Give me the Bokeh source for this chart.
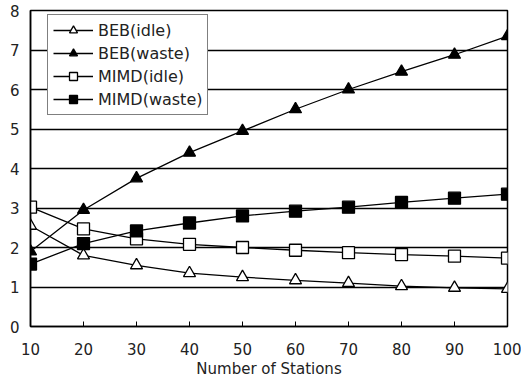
from bokeh.plotting import figure
from bokeh.models import FixedTicker, Range1d, Legend, LegendItem
from bokeh.embed import file_html
from bokeh.resources import INLINE

stations = [10, 20, 30, 40, 50, 60, 70, 80, 90, 100]
beb_idle = [2.55, 1.80, 1.55, 1.35, 1.25, 1.17, 1.10, 1.02, 0.98, 0.95]
beb_waste = [1.90, 2.95, 3.75, 4.40, 4.95, 5.50, 6.00, 6.45, 6.88, 7.35]
mimd_idle = [3.02, 2.47, 2.22, 2.08, 2.00, 1.93, 1.87, 1.82, 1.78, 1.73]
mimd_waste = [1.58, 2.10, 2.42, 2.62, 2.80, 2.92, 3.02, 3.14, 3.25, 3.35]
y_ticks = [0, 1, 2, 3, 4, 5, 6, 7, 8]
x_label = "Number of Stations"

FONT = "DejaVu Sans"
NAN = float("nan")

p = figure(width=521, height=385, output_backend="svg", toolbar_location=None,
           x_range=Range1d(10, 100), y_range=Range1d(0, 8),
           min_border_left=30, min_border_right=14, min_border_top=10, min_border_bottom=59)

p.outline_line_color = "black"
p.outline_line_width = 1.5
p.background_fill_color = "white"
p.border_fill_color = "white"

p.xgrid.visible = False
p.ygrid.grid_line_color = "black"
p.ygrid.grid_line_width = 1.5
p.ygrid.ticker = FixedTicker(ticks=y_ticks)

p.xaxis.ticker = FixedTicker(ticks=stations)
p.yaxis.ticker = FixedTicker(ticks=y_ticks)
for ax in (p.xaxis, p.yaxis):
    ax.axis_line_color = "black"
    ax.axis_line_width = 1.5
    ax.minor_tick_line_color = None
    ax.major_label_text_font = FONT
    ax.major_label_text_font_size = "15px"
    ax.major_label_text_color = "#222222"
p.xaxis.major_tick_in = 5
p.xaxis.major_tick_out = 0
p.xaxis.major_tick_line_color = "black"
p.xaxis.major_label_standoff = 16
p.yaxis.major_tick_in = 0
p.yaxis.major_tick_out = 0
p.yaxis.major_label_standoff = 11
p.xaxis.axis_label = x_label
p.xaxis.axis_label_text_font = FONT
p.xaxis.axis_label_text_font_size = "15px"
p.xaxis.axis_label_text_font_style = "normal"
p.xaxis.axis_label_text_color = "#222222"
p.xaxis.axis_label_standoff = 2

series = [
    ("BEB(idle)", beb_idle, "triangle", "white"),
    ("BEB(waste)", beb_waste, "triangle", "black"),
    ("MIMD(idle)", mimd_idle, "square", "white"),
    ("MIMD(waste)", mimd_waste, "square", "black"),
]
items = []
for name, ys, marker, fill in series:
    p.line(stations, ys, line_color="black", line_width=1.3)
    p.scatter(stations, ys, marker=marker, size=12, fill_color=fill,
              line_color="black", line_width=1.3)
    # legend-only proxies (no visible data) with a smaller marker, as in the reference
    lp = p.line([NAN], [NAN], line_color="black", line_width=1.3)
    sp = p.scatter([NAN], [NAN], marker=marker, size=9, fill_color=fill,
                   line_color="black", line_width=1.3)
    items.append(LegendItem(label=name, renderers=[lp, sp]))

legend = Legend(items=items, location=(17, 211))
legend.label_text_font = FONT
legend.label_text_font_size = "16px"
legend.label_text_color = "#222222"
legend.glyph_width = 40
legend.glyph_height = 20
legend.label_standoff = 5
legend.spacing = 3
legend.padding = 5
legend.margin = 0
legend.border_line_color = "black"
legend.border_line_width = 1.3
legend.background_fill_color = "white"
legend.background_fill_alpha = 1
legend.label_height = 20
p.add_layout(legend)

open("out.html", "w").write(file_html(p, INLINE))
